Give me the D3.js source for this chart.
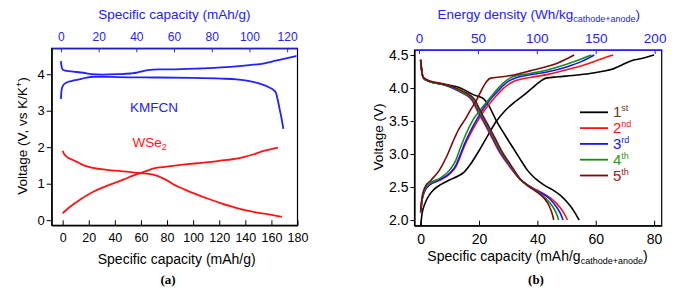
<!DOCTYPE html>
<html lang="en">
<head>
<meta charset="UTF-8" />
<title>Voltage profiles</title>
<script src="https://d3js.org/d3.v7.min.js"></script>
<style>
  body { margin: 0; background: #fff; }
  svg { display: block; font-family: "Liberation Sans", Arial, sans-serif; }
</style>
</head>
<body>
<svg id="chart" width="681" height="289"></svg>
<script>
// ---- panel (a): half cells, [capacity mAh/g, voltage V]
// KMFCN uses the top (blue) capacity axis, WSe2 the bottom one
const kmfcnCharge = [[0,4.36],[0.3,4.22],[1,4.12],[3,4.09],[6.5,4.07],[12,4.04],[16,4.0],[22,3.99],[30,4.0],[37,4.02],[40,4.04],[43,4.08],[46,4.11],[52,4.13],[58,4.13],[75,4.16],[90,4.2],[100,4.25],[108,4.3],[114,4.37],[120,4.44],[125,4.5]];
const kmfcnDischarge = [[0,3.32],[0.3,3.55],[1,3.68],[3,3.77],[6,3.82],[9,3.85],[13,3.9],[17,3.93],[22,3.93],[30,3.92],[50,3.91],[70,3.9],[85,3.88],[93,3.86],[100,3.81],[105.5,3.74],[110.8,3.63],[113,3.56],[114,3.5],[115,3.3],[116,3.05],[117,2.8],[118,2.5]];
const wse2Discharge = [[0,1.9],[1,1.82],[3,1.74],[8,1.65],[13,1.56],[18,1.48],[23.5,1.43],[33.8,1.38],[49,1.33],[59.4,1.29],[66,1.27],[72,1.22],[76,1.16],[80,1.09],[86,0.96],[93,0.85],[103,0.7],[112,0.58],[121,0.47],[130,0.37],[139,0.28],[149,0.21],[159,0.15],[168,0.09]];
const wse2Charge = [[0,0.19],[4,0.32],[8,0.43],[13.3,0.56],[18,0.67],[23.5,0.78],[31,0.9],[38.9,1.01],[47,1.12],[54,1.22],[59.4,1.29],[65,1.36],[70,1.42],[75,1.45],[82.4,1.48],[92,1.52],[103,1.56],[112,1.59],[120.8,1.63],[130,1.67],[138.7,1.73],[146,1.8],[154,1.9],[160,1.95],[165,1.99]];

// ---- panel (b): full cell, five cycles, [capacity mAh/g(cathode+anode), voltage V]
const charge1 = [[0,1.9],[0.5,2.1],[1.5,2.25],[3,2.38],[4.5,2.46],[7,2.54],[10,2.61],[13,2.67],[15,2.73],[17,2.84],[20,3.05],[23,3.28],[26,3.5],[29,3.66],[32,3.78],[35,3.88],[38,3.99],[41,4.1],[43,4.15],[47,4.17],[52,4.19],[58,4.22],[62,4.25],[66,4.29],[69,4.35],[72,4.41],[76,4.45],[80,4.5]];
const discharge1 = [[0,4.43],[0.4,4.25],[1,4.15],[3,4.1],[6,4.07],[10,4.04],[13,4.01],[15.5,3.96],[18,3.9],[20,3.87],[21.5,3.84],[23,3.76],[26,3.5],[29,3.28],[32,3.07],[34,2.93],[36.5,2.76],[39,2.64],[41,2.57],[43,2.51],[45.5,2.45],[48,2.37],[50,2.28],[51.5,2.2],[53,2.1],[54.3,2.0]];
const charge2 = [[0,2.12],[0.5,2.3],[1.5,2.45],[3,2.53],[6.5,2.6],[10,2.7],[12,2.8],[13.5,2.95],[15,3.12],[17,3.3],[19.8,3.52],[22.5,3.7],[25.5,3.86],[28,3.98],[31,4.08],[34,4.13],[37.5,4.16],[44,4.21],[52,4.3],[56,4.35],[60,4.41],[63,4.46],[66,4.5]];
const discharge2 = [[0,4.42],[0.4,4.25],[1,4.15],[3,4.1],[7,4.06],[11,4.0],[14,3.93],[16,3.88],[17.5,3.82],[19.5,3.65],[22,3.45],[24.5,3.24],[26.6,3.06],[30,2.84],[34,2.62],[37,2.52],[40,2.45],[44.3,2.34],[47.8,2.19],[49.3,2.09],[50.3,2.0]];
const charge3 = [[0,2.11],[0.5,2.3],[1.5,2.45],[3,2.53],[6.5,2.61],[10,2.71],[12,2.82],[13.5,2.98],[15,3.15],[17,3.34],[19.2,3.52],[22,3.72],[24.5,3.86],[27,3.98],[30,4.1],[33,4.16],[37.5,4.2],[44,4.25],[50,4.32],[55,4.4],[59.5,4.5]];
const discharge3 = [[0,4.42],[0.4,4.25],[1,4.15],[3,4.1],[7,4.06],[11,4.0],[14.2,3.93],[16.3,3.88],[17.8,3.82],[19.8,3.65],[22.3,3.45],[24.8,3.24],[26.9,3.06],[30.2,2.84],[34,2.62],[37,2.52],[40,2.44],[44,2.33],[46.5,2.2],[48,2.09],[48.8,2.0]];
const charge4 = [[0,2.12],[0.5,2.32],[1.5,2.47],[3,2.55],[6.5,2.63],[10,2.76],[12,2.9],[13.5,3.08],[15.5,3.3],[18,3.52],[21,3.7],[23.2,3.82],[26,3.97],[29,4.1],[31.5,4.17],[37.5,4.22],[44,4.28],[50,4.36],[55,4.44],[58.5,4.5]];
const discharge4 = [[0,4.42],[0.4,4.25],[1,4.15],[3,4.1],[7,4.06],[11,4.01],[14.5,3.93],[16.6,3.88],[18.1,3.82],[20.1,3.65],[22.6,3.45],[25.1,3.24],[27.2,3.06],[30.5,2.84],[34,2.62],[37,2.51],[40,2.43],[43,2.32],[45.3,2.2],[46.6,2.09],[47.3,2.0]];
const charge5 = [[0,2.13],[0.5,2.35],[1.5,2.5],[3.5,2.6],[6.5,2.76],[9,2.97],[11,3.18],[13,3.37],[15.2,3.52],[17,3.66],[19.2,3.82],[21,3.98],[22.6,4.1],[24,4.15],[28,4.17],[33,4.21],[37.5,4.26],[42,4.31],[47,4.38],[52.6,4.5]];
const discharge5 = [[0,4.43],[0.4,4.26],[1,4.16],[3,4.11],[7,4.07],[11,4.02],[15,3.94],[17,3.89],[18.6,3.82],[20.5,3.65],[23,3.45],[25.5,3.24],[27.6,3.06],[30.8,2.84],[34,2.63],[37,2.51],[40,2.42],[42.5,2.32],[44.2,2.2],[45.1,2.09],[45.6,2.0]];

const cycleNames = ["1", "2", "3", "4", "5"];
const cycleSuffix = ["st", "nd", "rd", "th", "th"];
const cycleColors = ["#000000", "#ff1414", "#1414ff", "#1a8a1a", "#7a0c0c"];
const cycleTextColors = ["#6b3a10", "#ff1414", "#1414ff", "#2f9a10", "#a01818"];
const cycleCharge = [charge1, charge2, charge3, charge4, charge5];
const cycleDischarge = [discharge1, discharge2, discharge3, discharge4, discharge5];

const ticksA = d3.range(0, 181, 20);
const ticksATop = d3.range(0, 121, 20);
const ticksAY = [0, 1, 2, 3, 4];
const ticksB = [0, 20, 40, 60, 80];
const ticksBTop = [0, 50, 100, 150, 200];
const ticksBY = [2.0, 2.5, 3.0, 3.5, 4.0, 4.5];

const BLUE = "#2222ff";
const svg = d3.select("#chart");

// ---------- panel (a)
const fa = { left: 51.7, right: 297.5, top: 48.3, bottom: 225.3 };
const xA = d3.scaleLinear().domain([-8.4, 180]).range([fa.left, fa.right]);
const xATop = d3.scaleLinear().domain([-4.9, 125.5]).range([fa.left, fa.right]);
const yA = d3.scaleLinear().domain([-0.14, 4.71]).range([fa.bottom, fa.top]);

// ---------- panel (b)
const fb = { left: 414.5, right: 661.7, top: 50, bottom: 225.7 };
const xB = d3.scaleLinear().domain([-2.1, 82.6]).range([fb.left, fb.right]);
const xBTop = d3.scaleLinear().domain([-3.8, 206]).range([fb.left, fb.right]);
const yB = d3.scaleLinear().domain([1.914, 4.576]).range([fb.bottom, fb.top]);

function frame(f, id) {
  svg.append("clipPath").attr("id", id).append("rect")
    .attr("x", f.left).attr("y", f.top)
    .attr("width", f.right - f.left).attr("height", f.bottom - f.top);
  svg.append("rect")
    .attr("x", f.left).attr("y", f.top)
    .attr("width", f.right - f.left).attr("height", f.bottom - f.top)
    .attr("fill", "none").attr("stroke", "#000").attr("stroke-width", 1.2);
}

function styleAxis(g, color, size) {
  g.select(".domain").attr("stroke", color).attr("stroke-width", 1.2);
  g.selectAll(".tick line").attr("stroke", color).attr("stroke-width", 1);
  g.selectAll(".tick text").attr("fill", color).style("font-size", size + "px")
    .style("font-family", "'Liberation Sans', Arial, sans-serif");
}

frame(fa, "clipA");
frame(fb, "clipB");

// axes (a)
svg.append("g").attr("transform", `translate(0,${fa.bottom})`)
  .call(d3.axisBottom(xA).tickValues(ticksA).tickSize(-5).tickPadding(8).tickSizeOuter(0))
  .call(g => styleAxis(g, "#000", 12.5));
svg.append("g").attr("transform", `translate(0,${fa.top})`)
  .call(d3.axisTop(xATop).tickValues(ticksATop).tickSize(-4).tickPadding(7).tickSizeOuter(0))
  .call(g => styleAxis(g, BLUE, 12));
svg.append("g").attr("transform", `translate(${fa.left},0)`)
  .call(d3.axisLeft(yA).tickValues(ticksAY).tickFormat(d3.format("d")).tickSize(5).tickPadding(2).tickSizeOuter(0))
  .call(g => styleAxis(g, "#000", 13));

// axes (b)
svg.append("g").attr("transform", `translate(0,${fb.bottom})`)
  .call(d3.axisBottom(xB).tickValues(ticksB).tickSize(-5).tickPadding(8).tickSizeOuter(0))
  .call(g => styleAxis(g, "#000", 14));
svg.append("g").attr("transform", `translate(0,${fb.top})`)
  .call(d3.axisTop(xBTop).tickValues(ticksBTop).tickSize(-4).tickPadding(7).tickSizeOuter(0))
  .call(g => styleAxis(g, BLUE, 13.5));
svg.append("g").attr("transform", `translate(${fb.left},0)`)
  .call(d3.axisLeft(yB).tickValues(ticksBY).tickFormat(d3.format(".1f")).tickSize(4).tickPadding(2).tickSizeOuter(0))
  .call(g => styleAxis(g, "#000", 14));

// curves
const lineA = d3.line().x(d => xA(d[0])).y(d => yA(d[1])).curve(d3.curveMonotoneX);
const lineATop = d3.line().x(d => xATop(d[0])).y(d => yA(d[1])).curve(d3.curveMonotoneX);
const lineB = d3.line().x(d => xB(d[0])).y(d => yB(d[1])).curve(d3.curveMonotoneX);

const gA = svg.append("g").attr("clip-path", "url(#clipA)")
  .attr("fill", "none").attr("stroke-width", 1.8);
gA.append("path").attr("d", lineATop(kmfcnCharge)).attr("stroke", BLUE);
gA.append("path").attr("d", lineATop(kmfcnDischarge)).attr("stroke", BLUE);
gA.append("path").attr("d", lineA(wse2Charge)).attr("stroke", "#ff1414");
gA.append("path").attr("d", lineA(wse2Discharge)).attr("stroke", "#ff1414");

const gB = svg.append("g").attr("clip-path", "url(#clipB)")
  .attr("fill", "none").attr("stroke-width", 1.6);
cycleNames.forEach((n, i) => {
  gB.append("path").attr("d", lineB(cycleCharge[i])).attr("stroke", cycleColors[i]);
  gB.append("path").attr("d", lineB(cycleDischarge[i])).attr("stroke", cycleColors[i]);
});

// legend (b)
const legend = svg.append("g");
cycleNames.forEach((n, i) => {
  const y = 112.3 + i * 15.8;
  legend.append("line").attr("x1", 580).attr("x2", 608).attr("y1", y).attr("y2", y)
    .attr("stroke", cycleColors[i]).attr("stroke-width", 1.8);
  const t = legend.append("text").attr("x", 613).attr("y", y + 5)
    .attr("fill", cycleTextColors[i]).style("font-size", "15px");
  t.append("tspan").text(n);
  t.append("tspan").attr("dy", -6).style("font-size", "9px").text(cycleSuffix[i]);
});

// text labels
const txt = (x, y, s, opts = {}) => svg.append("text")
  .attr("x", x).attr("y", y)
  .attr("text-anchor", opts.anchor || "middle")
  .attr("fill", opts.color || "#000")
  .style("font-size", (opts.size || 13.5) + "px")
  .text(s);

txt(174.3, 19, "Specific capacity (mAh/g)", { color: BLUE });
txt(176.7, 264, "Specific capacity (mAh/g)", { size: 14 });
txt(154, 112, "KMFCN", { color: BLUE, anchor: "middle", size: 13.5 });

const wse = txt(132.5, 147, "WSe", { color: "#ff1414", anchor: "start", size: 13.5 });
wse.append("tspan").attr("dy", 3).style("font-size", "9px").text("2");

const yLabA = svg.append("text")
  .attr("transform", "translate(27,136) rotate(-90)")
  .attr("text-anchor", "middle").style("font-size", "13.5px").text("Voltage (V, vs K/K");
yLabA.append("tspan").attr("dy", -5).style("font-size", "9px").text("+");
yLabA.append("tspan").attr("dy", 5).text(")");

const topB = txt(538.8, 19, "Energy density (Wh/kg", { color: BLUE });
topB.append("tspan").attr("dy", 3).style("font-size", "9px").text("cathode+anode");
topB.append("tspan").attr("dy", -3).text(")");

const botB = txt(537.5, 261, "Specific capacity (mAh/g", { size: 14 });
botB.append("tspan").attr("dy", 3).style("font-size", "9px").text("cathode+anode");
botB.append("tspan").attr("dy", -3).text(")");

svg.append("text").attr("transform", "translate(383,137) rotate(-90)")
  .attr("text-anchor", "middle").style("font-size", "13.5px").text("Voltage (V)");

svg.append("text").attr("x", 168).attr("y", 284).attr("text-anchor", "middle")
  .style("font-family", "'Liberation Serif', 'Times New Roman', serif")
  .style("font-weight", "bold").style("font-size", "13px").text("(a)");
svg.append("text").attr("x", 536).attr("y", 284).attr("text-anchor", "middle")
  .style("font-family", "'Liberation Serif', 'Times New Roman', serif")
  .style("font-weight", "bold").style("font-size", "13px").text("(b)");
</script>
</body>
</html>
